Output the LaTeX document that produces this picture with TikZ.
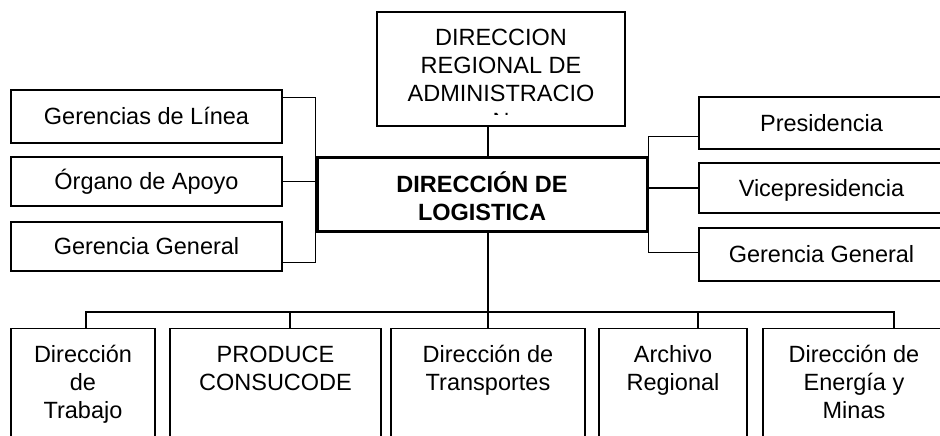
\documentclass[tikz,border=0pt]{standalone}
\usepackage{fontspec}
\setmainfont{Liberation Sans}
\newcommand\topstrut{\rule{0pt}{20pt}}
\newcommand\botstrut{\rule[-6pt]{0pt}{6pt}}
\begin{document}
\begin{tikzpicture}[x=1pt,y=-1pt,
  orgbox/.style={draw,line width=1.4pt,inner sep=0pt,font=\fontsize{23.5}{28}\selectfont,align=center},
  onebox/.style={orgbox,text height=16.8pt,text depth=0pt},
  bottombox/.style={orgbox,anchor=north,minimum height=110pt},
  mainbox/.style={draw,line width=3pt,inner sep=0pt,font=\bfseries\fontsize{23.5}{28}\selectfont,align=center},
  link/.style={line width=1.4pt}]
\path[use as bounding box,clip] (0,0) rectangle (940,436);
\fill[white] (0,0) rectangle (940,436);

% top box
\node[orgbox,minimum width=248pt,minimum height=114pt] (dra) at (501,69) {};
\begin{scope}
  \clip (378,13) rectangle (624,114.5);
  \node[inner sep=0pt,anchor=north,align=center,font=\fontsize{23.5}{28}\selectfont] (dratext) at (501,25)
    {\topstrut DIRECCION\\REGIONAL DE\\ADMINISTRACIO\\N};
\end{scope}

% central box
\node[mainbox,minimum width=330pt,minimum height=74pt] (log) at (482,194)
  {\rule{0pt}{31pt}DIRECCIÓN DE\\LOGISTICA\botstrut};

% left boxes
\node[onebox,minimum width=271pt,minimum height=53pt] (gl) at (146.5,116.5) {Gerencias de Línea};
\node[onebox,minimum width=271pt,minimum height=49pt] (og) at (146.5,181.5) {Órgano de Apoyo};
\node[onebox,minimum width=271pt,minimum height=49pt] (gg) at (146.5,246.5) {Gerencia General};

% right boxes
\node[onebox,minimum width=245pt,minimum height=52pt] (pr) at (821.5,123) {Presidencia};
\node[onebox,minimum width=245pt,minimum height=50pt] (vp) at (821.5,188) {Vicepresidencia};
\node[onebox,minimum width=245pt,minimum height=53pt] (ggr) at (821.5,254.5) {Gerencia General};

% bottom boxes
\node[bottombox,minimum width=144pt] (dt) at (83,328) {\topstrut Dirección\\de\\Trabajo\botstrut};
\node[bottombox,minimum width=211pt] (pc) at (275.5,328) {\topstrut PRODUCE\\CONSUCODE\\\botstrut};
\node[bottombox,minimum width=194pt] (tr) at (488,328) {\topstrut Dirección de\\Transportes\\\botstrut};
\node[bottombox,minimum width=148pt] (ar) at (673,328) {\topstrut Archivo\\Regional\\\botstrut};
\node[bottombox,minimum width=182pt] (en) at (854,328) {\topstrut Dirección de\\Energía y\\Minas\botstrut};

% connectors: top and central stems
\draw[link] (tr.north |- dra.south) -- (tr.north |- log.north);
\draw[link] (tr.north |- log.south) -- (tr.north);

% left bracket
\coordinate (lt) at ([yshift=-8pt]gl.north east);
\coordinate (lb) at ([yshift=9pt]gg.south east);
\draw[link] (lt) -| (log.west |- lb) -- (lb);
\draw[link] (og.east) -- (og.east -| log.west);

% right bracket
\coordinate (rt) at ([yshift=13pt]pr.south west);
\coordinate (rb) at ([yshift=2pt]ggr.west);
\draw[link] (rt) -| (log.east |- rb) -- (rb);
\draw[link] (vp.west) -- (vp.west -| log.east);

% bottom bus
\coordinate (bus) at (488,312);
\coordinate (s1) at ([xshift=3pt]dt.north);
\coordinate (s2) at ([xshift=14.5pt]pc.north);
\coordinate (s4) at ([xshift=25pt]ar.north);
\coordinate (s5) at ([xshift=40pt]en.north);
\draw[link] (s1) |- (s5 |- bus) -- (s5);
\draw[link] (s2) -- (s2 |- bus);
\draw[link] (s4) -- (s4 |- bus);
\end{tikzpicture}
\end{document}
